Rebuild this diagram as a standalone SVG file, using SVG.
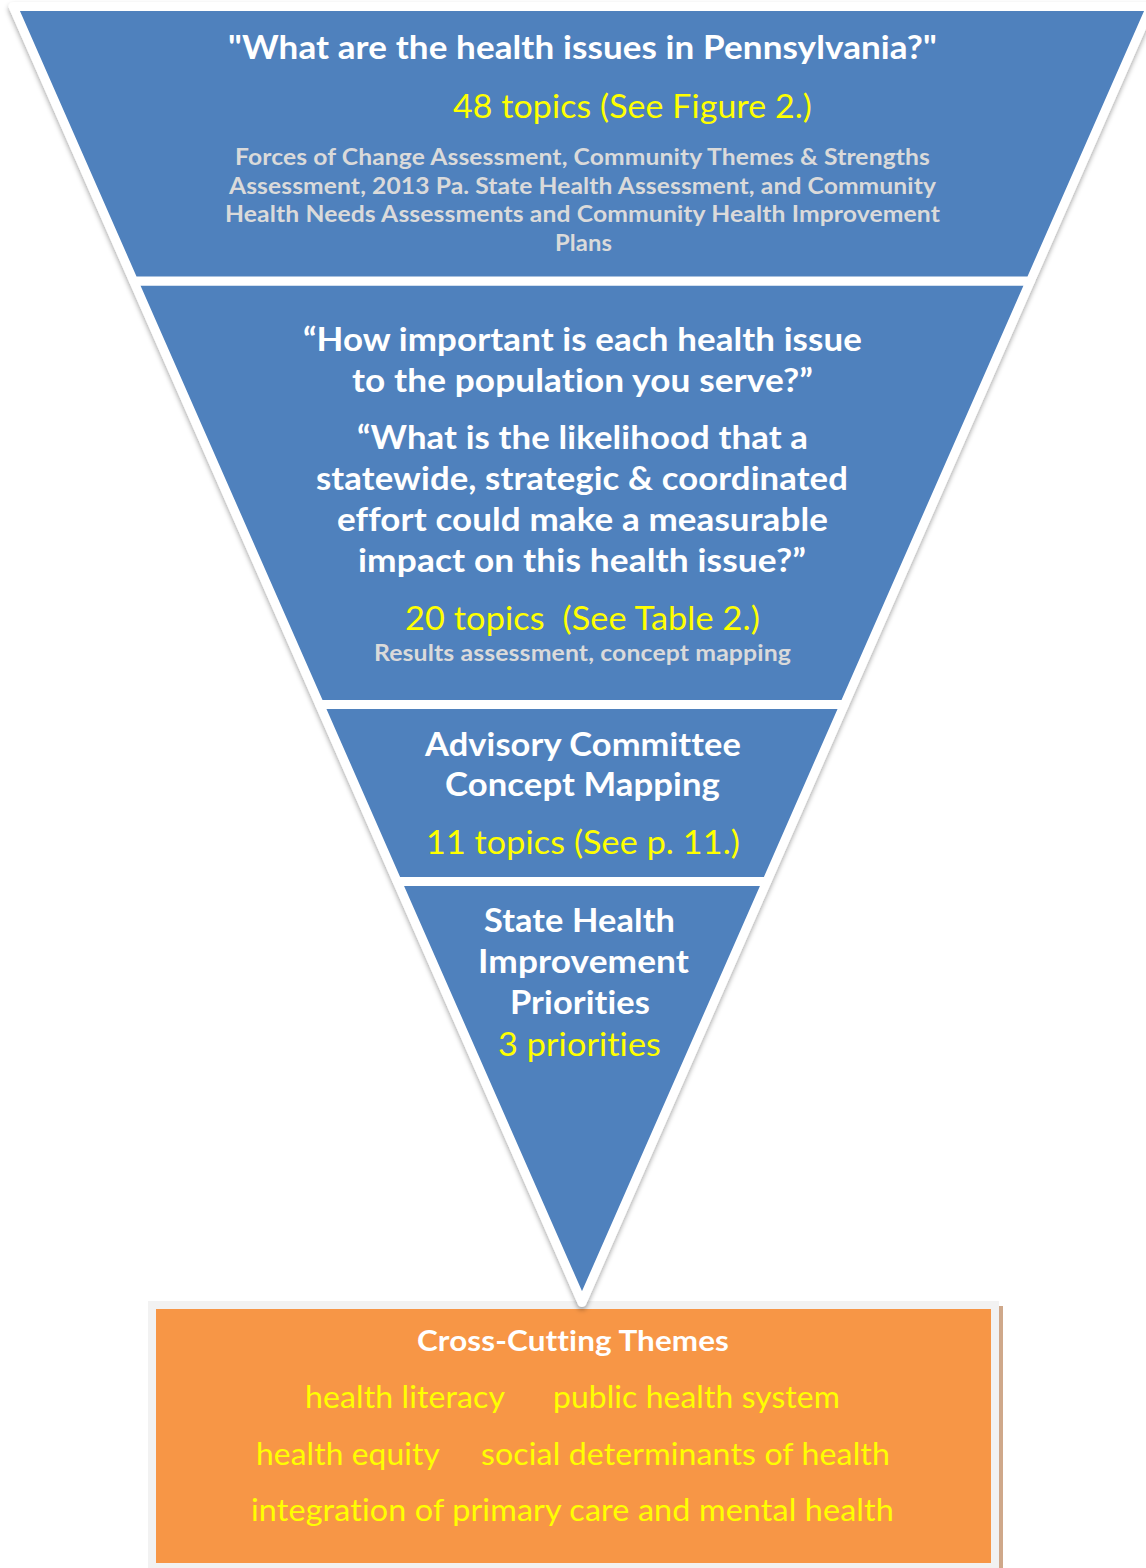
<svg xmlns="http://www.w3.org/2000/svg" width="1146" height="1568" viewBox="0 0 1146 1568">
  <defs>
    <filter id="soft-shadow" x="-5%" y="-5%" width="110%" height="110%">
      <feDropShadow dx="0" dy="3" stdDeviation="2.5" flood-color="#000" flood-opacity="0.35"/>
    </filter>
  </defs>
  <style>
    .band { fill: #4F81BD; stroke: #FFFFFF; stroke-width: 9; stroke-linejoin: round; }
    text { font-family: "Lato", "Open Sans", "Liberation Sans", sans-serif; text-anchor: middle;
           letter-spacing: 0.1px; font-variant-ligatures: none; }
    .q { fill: #FFFFFF; font-weight: 700; font-size: 32px; }
    .n { fill: #FFFF00; font-weight: 400; font-size: 32px; }
    .s { fill: #DADADA; font-weight: 700; font-size: 22px; }
    .t { fill: #FFFF00; font-weight: 400; font-size: 31px; }
    .h { fill: #FFFFFF; font-weight: 700; font-size: 29px; }
  </style>

  <rect width="1146" height="1568" fill="#FFFFFF"/>

  <!-- Cross-cutting themes box -->
  <g id="themes">
    <rect x="999" y="1306" width="4" height="262" fill="#CFA88A"/>
    <rect x="148" y="1301" width="851" height="267" fill="#F2F2F2"/>
    <rect x="156" y="1309" width="835" height="254" fill="#F79646"/>
    <text class="h" x="573" y="1351" textLength="312" lengthAdjust="spacingAndGlyphs">Cross-Cutting Themes</text>
    <text class="t" x="405" y="1408" textLength="200" lengthAdjust="spacingAndGlyphs">health literacy</text>
    <text class="t" x="696.5" y="1408" textLength="287" lengthAdjust="spacingAndGlyphs">public health system</text>
    <text class="t" x="348" y="1465" textLength="184" lengthAdjust="spacingAndGlyphs">health equity</text>
    <text class="t" x="685.5" y="1465" textLength="409" lengthAdjust="spacingAndGlyphs">social determinants of health</text>
    <text class="t" x="572.5" y="1521" textLength="643" lengthAdjust="spacingAndGlyphs">integration of primary care and mental health</text>
  </g>

  <!-- Funnel: four stacked bands sharing one shadow -->
  <g filter="url(#soft-shadow)">
    <g id="band4">
      <polygon class="band" points="397.2,881.5 766.8,881.5 582,1302.4"/>
    </g>
    <g id="band3">
      <polygon class="band" points="319.6,704.5 844.4,704.5 766.8,881.5 397.2,881.5"/>
    </g>
    <g id="band2">
      <polygon class="band" points="133.6,281 1030.4,281 844.4,704.5 319.6,704.5"/>
    </g>
    <g id="band1">
      <polygon class="band" points="13.1,6.5 1150.9,6.5 1030.4,281 133.6,281"/>
    </g>
  </g>

  <!-- Band labels -->
  <g id="band1-text">
    <text class="q" x="582.5" y="59" textLength="709" lengthAdjust="spacingAndGlyphs">"What are the health issues in Pennsylvania?"</text>
    <text class="n" x="632.5" y="118" textLength="359" lengthAdjust="spacingAndGlyphs">48 topics (See Figure 2.)</text>
    <text class="s" x="582.5" y="165" textLength="695" lengthAdjust="spacingAndGlyphs">Forces of Change Assessment, Community Themes &amp; Strengths</text>
    <text class="s" x="582.5" y="194" textLength="707" lengthAdjust="spacingAndGlyphs">Assessment, 2013 Pa. State Health Assessment, and Community</text>
    <text class="s" x="582.5" y="222" textLength="715" lengthAdjust="spacingAndGlyphs">Health Needs Assessments and Community Health Improvement</text>
    <text class="s" x="583.5" y="251" textLength="57" lengthAdjust="spacingAndGlyphs">Plans</text>
  </g>
  <g id="band2-text">
    <text class="q" x="582.5" y="351" textLength="559" lengthAdjust="spacingAndGlyphs">“How important is each health issue</text>
    <text class="q" x="582.5" y="392" textLength="461" lengthAdjust="spacingAndGlyphs">to the population you serve?”</text>
    <text class="q" x="582.5" y="449" textLength="451" lengthAdjust="spacingAndGlyphs">“What is the likelihood that a</text>
    <text class="q" x="582" y="490" textLength="532" lengthAdjust="spacingAndGlyphs">statewide, strategic &amp; coordinated</text>
    <text class="q" x="582.5" y="531" textLength="491" lengthAdjust="spacingAndGlyphs">effort could make a measurable</text>
    <text class="q" x="582" y="572" textLength="448" lengthAdjust="spacingAndGlyphs">impact on this health issue?”</text>
    <text class="n" x="582.5" y="630" textLength="355" lengthAdjust="spacingAndGlyphs" xml:space="preserve">20 topics  (See Table 2.)</text>
    <text class="s" x="582.5" y="661" textLength="417" lengthAdjust="spacingAndGlyphs">Results assessment, concept mapping</text>
  </g>
  <g id="band3-text">
    <text class="q" x="583" y="756" textLength="316" lengthAdjust="spacingAndGlyphs">Advisory Committee</text>
    <text class="q" x="582.5" y="796" textLength="275" lengthAdjust="spacingAndGlyphs">Concept Mapping</text>
    <text class="n" x="583" y="854" textLength="314" lengthAdjust="spacingAndGlyphs">11 topics (See p. 11.)</text>
  </g>
  <g id="band4-text">
    <text class="q" x="579.5" y="932" textLength="191" lengthAdjust="spacingAndGlyphs">State Health</text>
    <text class="q" x="583.5" y="973" textLength="211" lengthAdjust="spacingAndGlyphs">Improvement</text>
    <text class="q" x="580" y="1014" textLength="140" lengthAdjust="spacingAndGlyphs">Priorities</text>
    <text class="n" x="579.5" y="1056" textLength="163" lengthAdjust="spacingAndGlyphs">3 priorities</text>
  </g>
</svg>
